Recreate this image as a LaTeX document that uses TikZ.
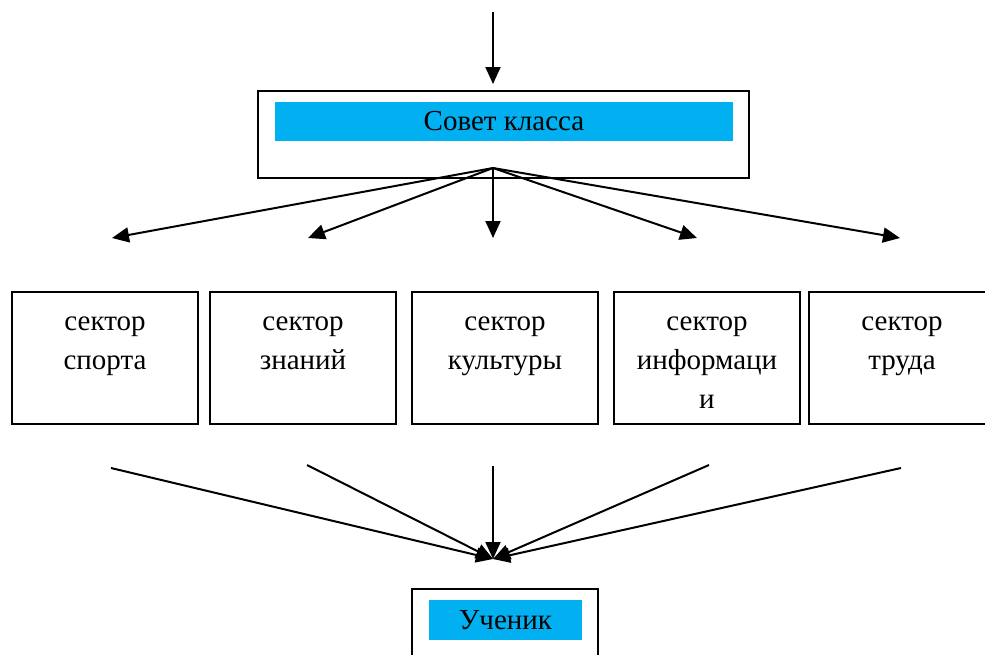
\documentclass[tikz,border=0pt]{standalone}
\usepackage{fontspec}
\setmainfont{Liberation Serif}
\usepackage{tikz}
\usetikzlibrary{arrows.meta}
\definecolor{wordblue}{HTML}{00B0F0}
\tikzstyle{frame}=[draw, line width=1.5pt, inner sep=0pt]
\tikzstyle{tag}=[fill=wordblue, inner sep=0pt, font=\fontsize{29}{39}\selectfont]
\tikzstyle{sector}=[frame, inner sep=3pt, minimum width=186, minimum height=132, font=\fontsize{29}{39}\selectfont]
\newcommand{\sectortext}[1]{\parbox[t][126pt][t]{180pt}{\centering\rule{0pt}{35pt}#1}}

\begin{document}
\begin{tikzpicture}[x=1pt, y=-1pt,
            every edge/.style={
                draw, line width=2pt,
                -{Triangle[length=17pt, width=15pt]}
                }
        ]
        \useasboundingbox (0,0) rectangle (985,654);
        % council
            \node[frame, minimum width=491, minimum height=87] (council) at (503.5,134.5) {};
            \node[tag, minimum width=458, minimum height=39] (council-t) at (504,121.5) {Совет класса};
        % sectors
            \node[sector] (sport) at (105,358) {\sectortext{сектор\\спорта}};
            \node[sector] (know) at (303,358) {\sectortext{сектор\\знаний}};
            \node[sector] (cult) at (505,358) {\sectortext{сектор\\культуры}};
            \node[sector] (info) at (707,358) {\sectortext{сектор\\информаци\\и}};
            \node[sector] (work) at (902,358) {\sectortext{сектор\\труда}};
        % pupil
            \node[frame, minimum width=186, minimum height=120] (pupil) at (505,649) {};
            \node[tag, minimum width=153, minimum height=40] (pupil-t) at (505.5,620) {Ученик};
        % arrow ends
            \coordinate (top) at (493,12);
            \coordinate (in) at (493,84);
            \coordinate (hub) at (493,168);
            \coordinate (t1) at (112,238);
            \coordinate (t2) at (308,238);
            \coordinate (t3) at (493,238);
            \coordinate (t4) at (697,238);
            \coordinate (t5) at (900,238);
            \coordinate (b1) at (111,468);
            \coordinate (b2) at (307,465);
            \coordinate (b3) at (493,466);
            \coordinate (b4) at (709,465);
            \coordinate (b5) at (901,468);
            \coordinate (sink) at (493,559);
        \path
                (top) edge (in)
                (hub) edge (t1)
                (hub) edge (t2)
                (hub) edge (t3)
                (hub) edge (t4)
                (hub) edge (t5)
                (b1) edge (sink)
                (b2) edge (sink)
                (b3) edge (sink)
                (b4) edge (sink)
                (b5) edge (sink)
            ;
\end{tikzpicture}
\end{document}
